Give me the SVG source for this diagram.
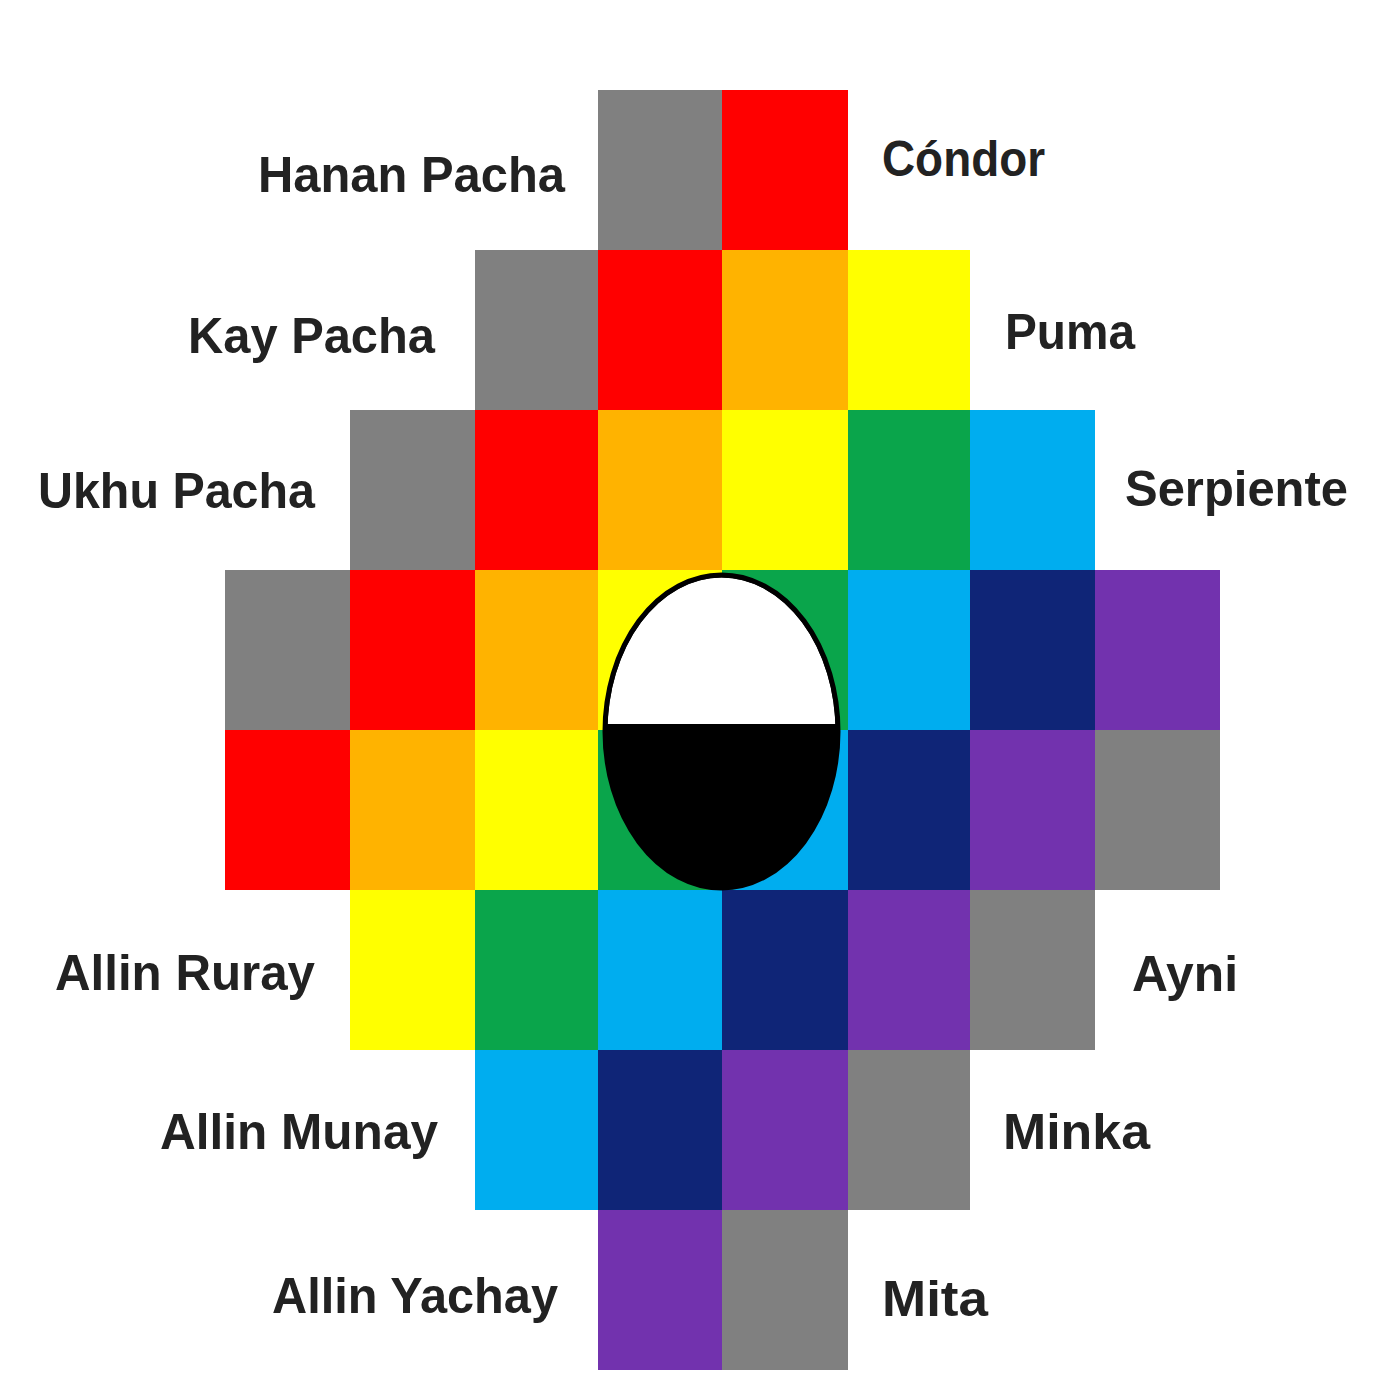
<svg xmlns="http://www.w3.org/2000/svg" width="1400" height="1400" viewBox="0 0 1400 1400">
<style>
.g{fill:#808080}.r{fill:#ff0000}.o{fill:#ffb300}.y{fill:#ffff00}.gr{fill:#0aa54b}.lb{fill:#00adef}.nv{fill:#0f2577}.p{fill:#7232ae}
text{font-family:"Liberation Sans",Arial,sans-serif;font-weight:bold;font-size:50px;fill:#222}
</style>
<defs>
<clipPath id="top"><rect x="590" y="560" width="270" height="164"/></clipPath>
</defs>
<rect width="1400" height="1400" fill="#fff"/>
<g id="grid">
<rect class="g" x="598" y="90" width="124" height="160"/>
<rect class="r" x="722" y="90" width="126" height="160"/>
<rect class="g" x="475" y="250" width="123" height="160"/>
<rect class="r" x="598" y="250" width="124" height="160"/>
<rect class="o" x="722" y="250" width="126" height="160"/>
<rect class="y" x="848" y="250" width="122" height="160"/>
<rect class="g" x="350" y="410" width="125" height="160"/>
<rect class="r" x="475" y="410" width="123" height="160"/>
<rect class="o" x="598" y="410" width="124" height="160"/>
<rect class="y" x="722" y="410" width="126" height="160"/>
<rect class="gr" x="848" y="410" width="122" height="160"/>
<rect class="lb" x="970" y="410" width="125" height="160"/>
<rect class="g" x="225" y="570" width="125" height="160"/>
<rect class="r" x="350" y="570" width="125" height="160"/>
<rect class="o" x="475" y="570" width="123" height="160"/>
<rect class="y" x="598" y="570" width="124" height="160"/>
<rect class="gr" x="722" y="570" width="126" height="160"/>
<rect class="lb" x="848" y="570" width="122" height="160"/>
<rect class="nv" x="970" y="570" width="125" height="160"/>
<rect class="p" x="1095" y="570" width="125" height="160"/>
<rect class="r" x="225" y="730" width="125" height="160"/>
<rect class="o" x="350" y="730" width="125" height="160"/>
<rect class="y" x="475" y="730" width="123" height="160"/>
<rect class="gr" x="598" y="730" width="124" height="160"/>
<rect class="lb" x="722" y="730" width="126" height="160"/>
<rect class="nv" x="848" y="730" width="122" height="160"/>
<rect class="p" x="970" y="730" width="125" height="160"/>
<rect class="g" x="1095" y="730" width="125" height="160"/>
<rect class="y" x="350" y="890" width="125" height="160"/>
<rect class="gr" x="475" y="890" width="123" height="160"/>
<rect class="lb" x="598" y="890" width="124" height="160"/>
<rect class="nv" x="722" y="890" width="126" height="160"/>
<rect class="p" x="848" y="890" width="122" height="160"/>
<rect class="g" x="970" y="890" width="125" height="160"/>
<rect class="lb" x="475" y="1050" width="123" height="160"/>
<rect class="nv" x="598" y="1050" width="124" height="160"/>
<rect class="p" x="722" y="1050" width="126" height="160"/>
<rect class="g" x="848" y="1050" width="122" height="160"/>
<rect class="p" x="598" y="1210" width="124" height="160"/>
<rect class="g" x="722" y="1210" width="126" height="160"/>
</g>
<g id="center">
<ellipse cx="721.5" cy="731.5" rx="116.5" ry="156.5" fill="#000"/>
<ellipse cx="721.5" cy="731.5" rx="114" ry="154" fill="#fff" clip-path="url(#top)"/>
<ellipse cx="721.5" cy="731.5" rx="116.5" ry="156.5" fill="none" stroke="#000" stroke-width="5"/>
</g>
<g id="labels">
<text x="258" y="192" textLength="307" lengthAdjust="spacingAndGlyphs">Hanan Pacha</text>
<text x="882" y="176" textLength="163" lengthAdjust="spacingAndGlyphs">Cóndor</text>
<text x="188" y="353" textLength="247" lengthAdjust="spacingAndGlyphs">Kay Pacha</text>
<text x="1005" y="349" textLength="130" lengthAdjust="spacingAndGlyphs">Puma</text>
<text x="38" y="508" textLength="277" lengthAdjust="spacingAndGlyphs">Ukhu Pacha</text>
<text x="1125" y="506" textLength="223" lengthAdjust="spacingAndGlyphs">Serpiente</text>
<text x="55" y="990" textLength="260" lengthAdjust="spacingAndGlyphs">Allin Ruray</text>
<text x="1132" y="991" textLength="106" lengthAdjust="spacingAndGlyphs">Ayni</text>
<text x="160" y="1149" textLength="278" lengthAdjust="spacingAndGlyphs">Allin Munay</text>
<text x="1003" y="1149" textLength="147" lengthAdjust="spacingAndGlyphs">Minka</text>
<text x="272" y="1313" textLength="286" lengthAdjust="spacingAndGlyphs">Allin Yachay</text>
<text x="882" y="1316" textLength="106" lengthAdjust="spacingAndGlyphs">Mita</text>
</g>
</svg>
